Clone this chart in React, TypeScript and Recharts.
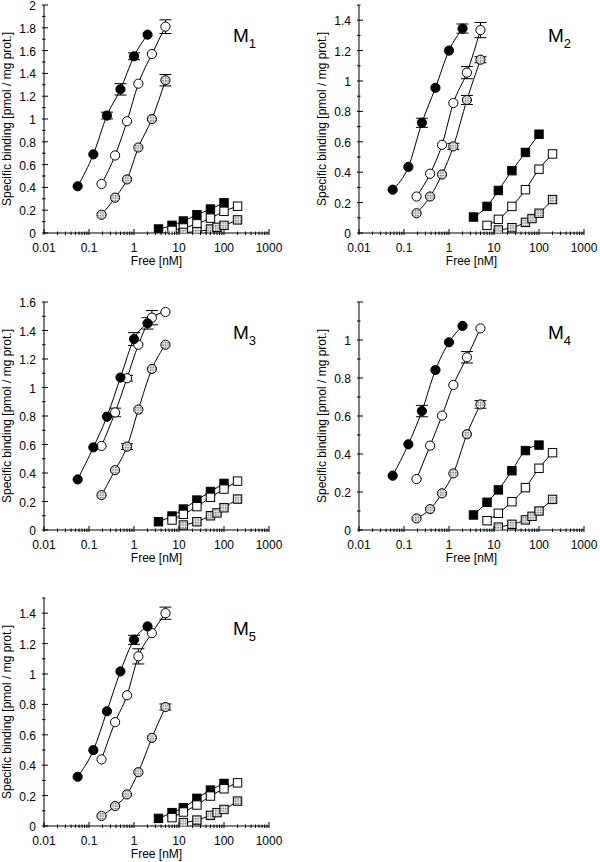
import React from 'react';
import { ComposedChart, Line, XAxis, YAxis, ErrorBar, Label } from 'recharts';

// x values (free concentration, nM)
const xFilledCircle = [0.056, 0.125, 0.25, 0.5, 1, 2];
const xOpenCircle = [0.19, 0.38, 0.7, 1.25, 2.5, 5];
const xHatchCircle = [0.19, 0.38, 0.7, 1.25, 2.5, 5];
const xFilledSquare = [3.5, 7, 12.5, 25, 50, 100];
const xOpenSquare = [7, 12.5, 25, 50, 100, 200];
const xHatchSquare = [12.5, 25, 50, 70, 100, 200];

// M1
const m1FilledCircle = [0.41, 0.69, 1.03, 1.26, 1.55, 1.74];
const m1FilledCircleErr = [0, 0, 0.03, 0.05, 0.03, 0];
const m1OpenCircle = [0.43, 0.68, 0.98, 1.31, 1.57, 1.81];
const m1OpenCircleErr = [0, 0, 0, 0, 0, 0.06];
const m1HatchCircle = [0.16, 0.31, 0.47, 0.75, 1.0, 1.34];
const m1HatchCircleErr = [0, 0, 0, 0, 0, 0.05];
const m1FilledSquare = [0.035, 0.067, 0.105, 0.16, 0.21, 0.265];
const m1OpenSquare = [0.023, 0.044, 0.08, 0.13, 0.19, 0.235];
const m1HatchSquare = [0.005, 0.012, 0.035, 0.05, 0.067, 0.115];

// M2
const m2FilledCircle = [0.285, 0.435, 0.725, 0.955, 1.2, 1.345];
const m2FilledCircleErr = [0, 0, 0.03, 0, 0, 0.03];
const m2OpenCircle = [0.24, 0.39, 0.58, 0.855, 1.055, 1.335];
const m2OpenCircleErr = [0, 0, 0, 0, 0.04, 0.05];
const m2HatchCircle = [0.13, 0.24, 0.385, 0.57, 0.875, 1.14];
const m2HatchCircleErr = [0, 0, 0, 0.02, 0.03, 0.02];
const m2FilledSquare = [0.105, 0.175, 0.28, 0.41, 0.53, 0.65];
const m2OpenSquare = [0.05, 0.09, 0.175, 0.285, 0.42, 0.52];
const m2HatchSquare = [0.02, 0.035, 0.07, 0.095, 0.13, 0.22];

// M3
const m3FilledCircle = [0.355, 0.58, 0.795, 1.07, 1.34, 1.45];
const m3FilledCircleErr = [0, 0, 0, 0, 0.045, 0.04];
const m3OpenCircle = [0.59, 0.825, 1.065, 1.3, 1.49, 1.53];
const m3OpenCircleErr = [0, 0.03, 0.02, 0, 0.05, 0];
const m3HatchCircle = [0.245, 0.42, 0.585, 0.845, 1.13, 1.3];
const m3HatchCircleErr = [0, 0, 0.02, 0, 0, 0];
const m3FilledSquare = [0.058, 0.098, 0.147, 0.21, 0.27, 0.327];
const m3OpenSquare = [0.07, 0.11, 0.164, 0.229, 0.287, 0.343];
const m3HatchSquare = [0.035, 0.058, 0.1, 0.12, 0.156, 0.217];

// M4
const m4FilledCircle = [0.286, 0.451, 0.626, 0.842, 0.988, 1.074];
const m4FilledCircleErr = [0, 0, 0.03, 0, 0, 0];
const m4OpenCircle = [0.268, 0.444, 0.602, 0.763, 0.909, 1.061];
const m4OpenCircleErr = [0, 0, 0, 0, 0.03, 0];
const m4HatchCircle = [0.061, 0.11, 0.193, 0.298, 0.504, 0.661];
const m4HatchCircleErr = [0, 0, 0, 0, 0, 0.02];
const m4FilledSquare = [0.079, 0.146, 0.211, 0.312, 0.418, 0.447];
const m4OpenSquare = [0.049, 0.088, 0.149, 0.223, 0.325, 0.407];
const m4HatchSquare = [0.015, 0.03, 0.053, 0.072, 0.1, 0.161];

// M5
const m5FilledCircle = [0.324, 0.499, 0.755, 1.017, 1.225, 1.313];
const m5FilledCircleErr = [0, 0, 0, 0, 0.03, 0];
const m5OpenCircle = [0.438, 0.683, 0.86, 1.116, 1.269, 1.4];
const m5OpenCircleErr = [0, 0, 0, 0.05, 0, 0.04];
const m5HatchCircle = [0.066, 0.131, 0.208, 0.354, 0.58, 0.783];
const m5HatchCircleErr = [0, 0, 0, 0, 0, 0.02];
const m5FilledSquare = [0.05, 0.088, 0.12, 0.182, 0.236, 0.28];
const m5OpenSquare = [0.055, 0.092, 0.138, 0.197, 0.245, 0.284];
const m5HatchSquare = [0.022, 0.039, 0.07, 0.088, 0.109, 0.164];

// axis ticks
const xMajorTicks = [0.01, 0.1, 1, 10, 100, 1000];
const xMajorLabels = ['0.01', '0.1', '1', '10', '100', '1000'];
const m1YLabels = [0, 0.2, 0.4, 0.6, 0.8, 1, 1.2, 1.4, 1.6, 1.8, 2];
const m2YLabels = [0, 0.2, 0.4, 0.6, 0.8, 1, 1.2, 1.4];
const m3YLabels = [0, 0.2, 0.4, 0.6, 0.8, 1, 1.2, 1.4, 1.6];
const m4YLabels = [0, 0.2, 0.4, 0.6, 0.8, 1];
const m5YLabels = [0, 0.2, 0.4, 0.6, 0.8, 1, 1.2, 1.4];

const xAllTicks: number[] = (() => {
  const out: number[] = [];
  for (let i = 0; i < xMajorTicks.length; i++) {
    const d = xMajorTicks[i];
    out.push(d);
    if (i < xMajorTicks.length - 1) {
      for (let m = 2; m <= 9; m++) out.push(Number((d * m).toPrecision(4)));
    }
  }
  return out;
})();

const FONT = '"Liberation Sans", Arial, Helvetica, sans-serif';

type Kind = 'filledCircle' | 'openCircle' | 'hatchCircle' | 'filledSquare' | 'openSquare' | 'hatchSquare';

const fillFor = (k: Kind) =>
  k.startsWith('filled') ? '#000' : k.startsWith('open') ? '#fff' : 'url(#hatchDots)';

const makeDot = (k: Kind) => (props: any) => {
  const { cx, cy, key, index } = props;
  if (cx == null || cy == null) return <g key={key ?? index} />;
  const fill = fillFor(k);
  if (k.endsWith('Circle')) {
    return <circle key={key ?? index} cx={cx} cy={cy} r={4.6} fill={fill} stroke="#000" strokeWidth={1} />;
  }
  return <rect key={key ?? index} x={cx - 4.2} y={cy - 4.2} width={8.4} height={8.4} fill={fill} stroke="#000" strokeWidth={1} />;
};

const XTickBottom = (props: any) => {
  const { x, y, payload } = props;
  const v = payload.value;
  const mi = xMajorTicks.indexOf(v);
  const major = mi >= 0;
  return (
    <g>
      <line x1={x} x2={x} y1={y} y2={y - (major ? 6 : 3.5)} stroke="#000" strokeWidth={1} />
      {major && (
        <text x={x} y={y + 16.5} textAnchor="middle" fontSize={12} fill="#000" fontFamily={FONT}>
          {xMajorLabels[mi]}
        </text>
      )}
    </g>
  );
};

const XTickTop = (props: any) => {
  const { x, y, payload } = props;
  const major = xMajorTicks.indexOf(payload.value) >= 0;
  return <line x1={x} x2={x} y1={y} y2={y + (major ? 6 : 3.5)} stroke="#000" strokeWidth={1} />;
};

const makeYTickLeft = (labels: number[]) => (props: any) => {
  const { x, y, payload } = props;
  const v = payload.value;
  const major = Math.round(v * 10) % 2 === 0;
  const labeled = labels.indexOf(v) >= 0;
  return (
    <g>
      <line x1={x} x2={x + (major ? 6 : 3.5)} y1={y} y2={y} stroke="#000" strokeWidth={1} />
      {labeled && (
        <text x={x - 6} y={y + 5} textAnchor="end" fontSize={12} fill="#000" fontFamily={FONT}>
          {String(v)}
        </text>
      )}
    </g>
  );
};

const YTickRight = (props: any) => {
  const { x, y, payload } = props;
  const major = Math.round(payload.value * 10) % 2 === 0;
  return <line x1={x} x2={x - (major ? 6 : 3.5)} y1={y} y2={y} stroke="#000" strokeWidth={1} />;
};

type Series = { kind: Kind; xs: number[]; ys: number[]; errs?: number[] };

type PanelProps = {
  name: string;
  sub: string;
  left: number;
  top: number;
  yMax: number;
  yLabels: number[];
  series: Series[];
};

const CHART_W = 285;
const CHART_H = 269;
const MARGIN_TOP = 5;

function Panel({ name, sub, left, top, yMax, yLabels, series }: PanelProps) {
  const yTicks = Array.from({ length: Math.round(yMax * 10) + 1 }, (_, i) => i / 10);
  const YTickLeft = makeYTickLeft(yLabels);
  return (
    <div style={{ position: 'absolute', left, top, width: CHART_W, height: CHART_H }}>
      <ComposedChart
        width={CHART_W}
        height={CHART_H}
        margin={{ top: MARGIN_TOP, right: 16, bottom: 0, left: 0 }}
        style={{ fontFamily: FONT }}
      >
        <XAxis
          xAxisId="b"
          type="number"
          dataKey="x"
          scale="log"
          domain={[0.01, 1000]}
          allowDataOverflow
          ticks={xAllTicks}
          interval={0}
          tickSize={0}
          tickLine={false}
          tick={(p: any) => <XTickBottom {...p} />}
          axisLine={{ stroke: '#000', strokeWidth: 1 }}
          height={36}
        >
          <Label
            value="Free [nM]"
            position="insideBottom"
            offset={4}
            style={{ fontSize: 12, fill: '#000', fontFamily: FONT }}
          />
        </XAxis>
        <XAxis
          xAxisId="t"
          orientation="top"
          type="number"
          dataKey="x"
          scale="log"
          domain={[0.01, 1000]}
          allowDataOverflow
          ticks={xAllTicks}
          interval={0}
          tickSize={0}
          tickLine={false}
          tick={(p: any) => <XTickTop {...p} />}
          axisLine={{ stroke: '#000', strokeWidth: 1 }}
          height={0}
        />
        <YAxis
          yAxisId="l"
          type="number"
          domain={[0, yMax]}
          allowDataOverflow
          ticks={yTicks}
          interval={0}
          tickSize={0}
          tickLine={false}
          tick={(p: any) => <YTickLeft {...p} />}
          axisLine={{ stroke: '#000', strokeWidth: 1 }}
          width={44}
        >
          <Label
            value="Specific binding [pmol / mg prot.]"
            angle={-90}
            position="insideLeft"
            offset={7}
            style={{ textAnchor: 'middle', fontSize: 12, fill: '#000', fontFamily: FONT }}
          />
        </YAxis>
        <YAxis
          yAxisId="r"
          orientation="right"
          type="number"
          domain={[0, yMax]}
          allowDataOverflow
          ticks={yTicks}
          interval={0}
          tickSize={0}
          tickLine={false}
          tick={(p: any) => <YTickRight {...p} />}
          axisLine={{ stroke: '#000', strokeWidth: 1 }}
          width={0}
        />
        {series.map((s, si) => {
          const data = s.xs.map((x, i) => ({ x, y: s.ys[i], e: s.errs ? s.errs[i] : 0 }));
          return (
            <Line
              key={name + si}
              xAxisId="b"
              yAxisId="l"
              data={data}
              dataKey="y"
              name={name + s.kind}
              type="monotone"
              stroke="#000"
              strokeWidth={1}
              dot={makeDot(s.kind)}
              activeDot={false}
              isAnimationActive={false}
            >
              <ErrorBar dataKey="e" direction="y" width={6} stroke="#000" strokeWidth={1} />
            </Line>
          );
        })}
        <text x={44 + 225 - 36} y={MARGIN_TOP + 37} fontSize={19} fill="#000" fontFamily={FONT}>
          {name}
          <tspan fontSize={13} dy={6}>
            {sub}
          </tspan>
        </text>
      </ComposedChart>
    </div>
  );
}

const panels: PanelProps[] = [
  {
    name: 'M', sub: '1', left: 0, top: 0, yMax: 2, yLabels: m1YLabels,
    series: [
      { kind: 'filledSquare', xs: xFilledSquare, ys: m1FilledSquare },
      { kind: 'openSquare', xs: xOpenSquare, ys: m1OpenSquare },
      { kind: 'hatchSquare', xs: xHatchSquare, ys: m1HatchSquare },
      { kind: 'hatchCircle', xs: xHatchCircle, ys: m1HatchCircle, errs: m1HatchCircleErr },
      { kind: 'openCircle', xs: xOpenCircle, ys: m1OpenCircle, errs: m1OpenCircleErr },
      { kind: 'filledCircle', xs: xFilledCircle, ys: m1FilledCircle, errs: m1FilledCircleErr },
    ],
  },
  {
    name: 'M', sub: '2', left: 315, top: 0, yMax: 1.5, yLabels: m2YLabels,
    series: [
      { kind: 'filledSquare', xs: xFilledSquare, ys: m2FilledSquare },
      { kind: 'openSquare', xs: xOpenSquare, ys: m2OpenSquare },
      { kind: 'hatchSquare', xs: xHatchSquare, ys: m2HatchSquare },
      { kind: 'hatchCircle', xs: xHatchCircle, ys: m2HatchCircle, errs: m2HatchCircleErr },
      { kind: 'openCircle', xs: xOpenCircle, ys: m2OpenCircle, errs: m2OpenCircleErr },
      { kind: 'filledCircle', xs: xFilledCircle, ys: m2FilledCircle, errs: m2FilledCircleErr },
    ],
  },
  {
    name: 'M', sub: '3', left: 0, top: 297, yMax: 1.6, yLabels: m3YLabels,
    series: [
      { kind: 'filledSquare', xs: xFilledSquare, ys: m3FilledSquare },
      { kind: 'openSquare', xs: xOpenSquare, ys: m3OpenSquare },
      { kind: 'hatchSquare', xs: xHatchSquare, ys: m3HatchSquare },
      { kind: 'hatchCircle', xs: xHatchCircle, ys: m3HatchCircle, errs: m3HatchCircleErr },
      { kind: 'openCircle', xs: xOpenCircle, ys: m3OpenCircle, errs: m3OpenCircleErr },
      { kind: 'filledCircle', xs: xFilledCircle, ys: m3FilledCircle, errs: m3FilledCircleErr },
    ],
  },
  {
    name: 'M', sub: '4', left: 315, top: 297, yMax: 1.2, yLabels: m4YLabels,
    series: [
      { kind: 'filledSquare', xs: xFilledSquare, ys: m4FilledSquare },
      { kind: 'openSquare', xs: xOpenSquare, ys: m4OpenSquare },
      { kind: 'hatchSquare', xs: xHatchSquare, ys: m4HatchSquare },
      { kind: 'hatchCircle', xs: xHatchCircle, ys: m4HatchCircle, errs: m4HatchCircleErr },
      { kind: 'openCircle', xs: xOpenCircle, ys: m4OpenCircle, errs: m4OpenCircleErr },
      { kind: 'filledCircle', xs: xFilledCircle, ys: m4FilledCircle, errs: m4FilledCircleErr },
    ],
  },
  {
    name: 'M', sub: '5', left: 0, top: 593, yMax: 1.5, yLabels: m5YLabels,
    series: [
      { kind: 'filledSquare', xs: xFilledSquare, ys: m5FilledSquare },
      { kind: 'openSquare', xs: xOpenSquare, ys: m5OpenSquare },
      { kind: 'hatchSquare', xs: xHatchSquare, ys: m5HatchSquare },
      { kind: 'hatchCircle', xs: xHatchCircle, ys: m5HatchCircle, errs: m5HatchCircleErr },
      { kind: 'openCircle', xs: xOpenCircle, ys: m5OpenCircle, errs: m5OpenCircleErr },
      { kind: 'filledCircle', xs: xFilledCircle, ys: m5FilledCircle, errs: m5FilledCircleErr },
    ],
  },
];

export default function App() {
  return (
    <div style={{ position: 'absolute', left: 0, top: 0, width: 600, height: 862, background: '#fff', overflow: 'hidden' }}>
      <svg width={0} height={0} style={{ position: 'absolute' }}>
        <defs>
          <pattern id="hatchDots" patternUnits="userSpaceOnUse" width={2.5} height={2.5}>
            <rect x={0} y={0} width={2.5} height={2.5} fill="#e4e4e4" />
            <rect x={0} y={0} width={1.25} height={1.25} fill="#6e6e6e" />
          </pattern>
        </defs>
      </svg>
      {panels.map((p) => (
        <Panel key={p.sub} {...p} />
      ))}
    </div>
  );
}
